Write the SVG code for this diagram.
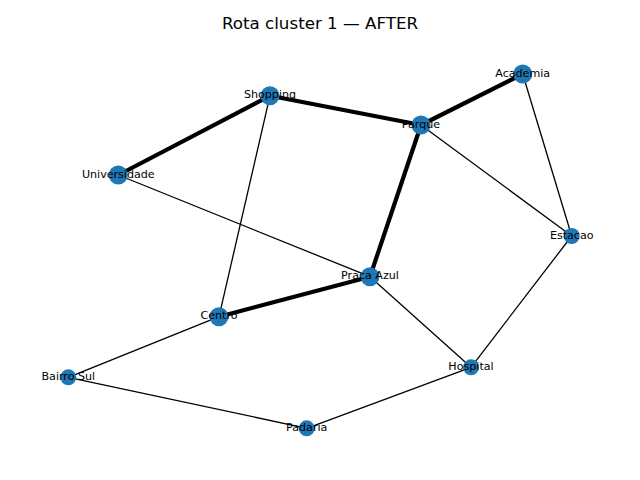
<svg xmlns="http://www.w3.org/2000/svg" width="640" height="480" viewBox="0 0 640 480">
<style>
.bg{fill:#ffffff}
.e{stroke:#000;stroke-width:1.3;fill:none}
.t{stroke:#000;stroke-width:4.2;fill:none}
.n{fill:#1f77b4}
.l{font-family:"DejaVu Sans",sans-serif;font-size:11.1px;fill:#000;text-anchor:middle;dominant-baseline:central}
.title{font-family:"DejaVu Sans",sans-serif;font-size:16.7px;fill:#000;text-anchor:middle}
</style>
<rect class="bg" x="0" y="0" width="640" height="480"/>
<text class="title" x="320" y="29">Rota cluster 1 — AFTER</text>
<g id="edges">
<line class="e" x1="270" y1="95.7" x2="219" y2="316.7"/>
<line class="e" x1="118.3" y1="175" x2="370" y2="276.7"/>
<line class="e" x1="421" y1="125" x2="571.7" y2="236"/>
<line class="e" x1="522.7" y1="74" x2="571.7" y2="236"/>
<line class="e" x1="571.7" y1="236" x2="471" y2="367.3"/>
<line class="e" x1="370" y1="276.7" x2="471" y2="367.3"/>
<line class="e" x1="219" y1="316.7" x2="68.3" y2="377.3"/>
<line class="e" x1="68.3" y1="377.3" x2="306.7" y2="428.3"/>
<line class="e" x1="306.7" y1="428.3" x2="471" y2="367.3"/>
<line class="t" x1="118.3" y1="175" x2="270" y2="95.7"/>
<line class="t" x1="270" y1="95.7" x2="421" y2="125"/>
<line class="t" x1="421" y1="125" x2="522.7" y2="74"/>
<line class="t" x1="421" y1="125" x2="370" y2="276.7"/>
<line class="t" x1="370" y1="276.7" x2="219" y2="316.7"/>
</g>
<g id="node-shopping"><circle class="n" cx="270" cy="95.7" r="9.5"/><text class="l" x="270" y="94.7">Shopping</text></g>
<g id="node-universidade"><circle class="n" cx="118.3" cy="175" r="9.5"/><text class="l" x="118.3" y="174">Universidade</text></g>
<g id="node-parque"><circle class="n" cx="421" cy="125" r="9.5"/><text class="l" x="421" y="124">Parque</text></g>
<g id="node-academia"><circle class="n" cx="522.7" cy="74" r="9.5"/><text class="l" x="522.7" y="73">Academia</text></g>
<g id="node-estacao"><circle class="n" cx="571.7" cy="236" r="8"/><text class="l" x="571.7" y="235">Estacao</text></g>
<g id="node-praca-azul"><circle class="n" cx="370" cy="276.7" r="9.5"/><text class="l" x="370" y="275.7">Praca Azul</text></g>
<g id="node-centro"><circle class="n" cx="219" cy="316.7" r="9.5"/><text class="l" x="219" y="315.7">Centro</text></g>
<g id="node-bairro-sul"><circle class="n" cx="68.3" cy="377.3" r="8"/><text class="l" x="68.3" y="376.3">Bairro Sul</text></g>
<g id="node-hospital"><circle class="n" cx="471" cy="367.3" r="8"/><text class="l" x="471" y="366.3">Hospital</text></g>
<g id="node-padaria"><circle class="n" cx="306.7" cy="428.3" r="8"/><text class="l" x="306.7" y="427.3">Padaria</text></g>
</svg>
